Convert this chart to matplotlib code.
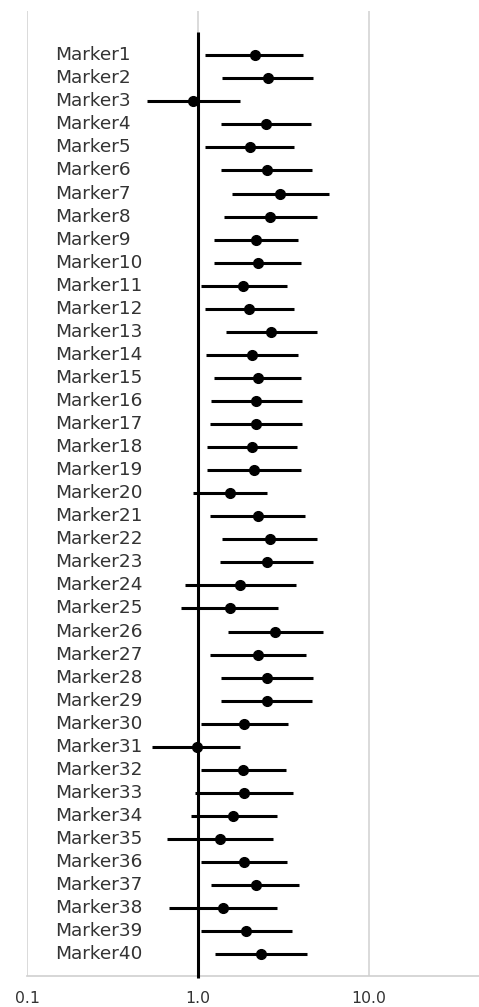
import matplotlib
matplotlib.use("Agg")
import matplotlib.pyplot as plt

markers = [f"Marker{i}" for i in range(1, 41)]
estimate = [2.16, 2.56, 0.94, 2.49, 2.02, 2.53, 3.02, 2.64, 2.19, 2.26,
            1.84, 1.99, 2.68, 2.08, 2.26, 2.19, 2.19, 2.08, 2.14, 1.54,
            2.26, 2.64, 2.53, 1.76, 1.54, 2.83, 2.24, 2.53, 2.53, 1.87,
            0.98, 1.84, 1.87, 1.61, 1.35, 1.87, 2.19, 1.40, 1.91, 2.33]
lower = [1.10, 1.38, 0.505, 1.36, 1.10, 1.36, 1.58, 1.42, 1.24, 1.24,
         1.04, 1.10, 1.45, 1.12, 1.24, 1.19, 1.17, 1.13, 1.13, 0.93,
         1.18, 1.38, 1.35, 0.84, 0.80, 1.49, 1.18, 1.36, 1.36, 1.04,
         0.54, 1.04, 0.96, 0.91, 0.66, 1.04, 1.19, 0.68, 1.04, 1.26]
upper = [4.14, 4.70, 1.76, 4.57, 3.65, 4.63, 5.88, 4.96, 3.84, 4.00,
         3.34, 3.65, 4.96, 3.84, 4.00, 4.07, 4.07, 3.79, 4.00, 2.55,
         4.24, 4.96, 4.70, 3.75, 2.95, 5.38, 4.29, 4.70, 4.63, 3.38,
         1.76, 3.28, 3.59, 2.91, 2.74, 3.34, 3.92, 2.91, 3.54, 4.33]
xticks = [0.1, 1.0, 10.0]
xticklabels = ["0.1", "1.0", "10.0"]

W, H = 479, 1007
fig = plt.figure(figsize=(W / 100, H / 100), dpi=100)
left_px, top_px, bottom_px = 27.3, 10.5, 975.5
decade_px = 170.7
ax = fig.add_axes([left_px / W, 1 - bottom_px / H, 3 * decade_px / W, (bottom_px - top_px) / H])
ax.set_xscale("log")
ax.set_xlim(0.1, 100)
ax.set_ylim(40.92, -0.94)

ys = list(range(1, 41))
xerr = [[e - l for e, l in zip(estimate, lower)], [u - e for e, u in zip(estimate, upper)]]
ax.errorbar(estimate, ys, xerr=xerr, fmt="o", color="black", ms=7,
            elinewidth=2.2, capsize=0, zorder=3)
ax.vlines(1.0, 0, 41.05, color="black", lw=2.2, zorder=4, clip_on=False)

for y, name in zip(ys, markers):
    ax.text(0.055, y, name, transform=ax.get_yaxis_transform(), ha="left", va="center",
            fontsize=13.3, family="DejaVu Sans", color="#333333")

ax.set_xticks(xticks)
ax.set_xticklabels(xticklabels, family="DejaVu Sans", fontsize=11.3, color="#333333")
ax.xaxis.set_minor_locator(matplotlib.ticker.NullLocator())
ax.tick_params(axis="x", length=0, pad=11)
ax.set_yticks([])
ax.grid(axis="x", color="#d4d4d4", lw=1.2)
ax.axvline(100.0, color="#d4d4d4", lw=1.2)
for s in ["top", "right", "left"]:
    ax.spines[s].set_visible(False)
ax.spines["bottom"].set_color("#cfcfcf")
ax.spines["bottom"].set_linewidth(1.2)

fig.savefig("out.png", dpi=100)
